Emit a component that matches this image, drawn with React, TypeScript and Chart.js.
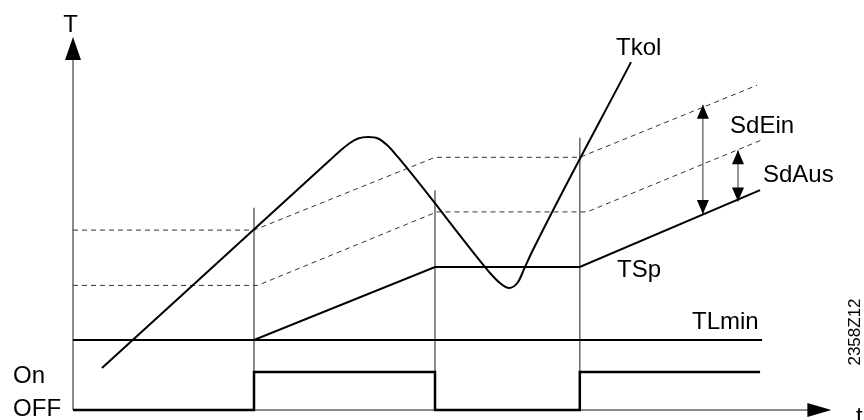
import { useEffect, useRef } from 'react';
import { Chart, registerables } from 'chart.js';

Chart.register(...registerables);

// ---- Data (time t, temperature T in diagram units) ----
const tkolTimes = [1.6, 14.2, 14.75, 15.3, 15.75, 16.3, 16.85, 17.35, 17.9, 22.76, 23.04, 23.59, 24.09, 24.59, 24.97, 25.41, 30.83];
const tkolValues = [6, 35.71, 37.0, 38.14, 38.79, 39.0, 38.79, 37.86, 36.29, 20.43, 19.57, 18.14, 17.43, 18.29, 20.43, 22.86, 49.7];

const tspTimes = [0, 10, 20, 28, 37.96];
const tspValues = [10, 10, 20.43, 20.43, 31.4];

const sdEinTimes = [0, 10, 20, 28, 37.8];
const sdEinValues = [25.7, 25.7, 36.1, 36.1, 46.4];

const sdAusTimes = [0, 10.2, 20.1, 28.4, 38.07];
const sdAusValues = [17.8, 17.8, 28.3, 28.3, 38.6];

const tlminTimes = [0, 38.07];
const tlminValues = [10, 10];

const switchTimes = [0, 10, 10, 20, 20, 28, 28, 37.96];
const switchValues = [0, 0, 5.43, 5.43, 0, 0, 5.43, 5.43];

const markerTimes = [10, 20, 28];
const markerTops = [28.9, 31.4, 38.9];

const axisTimeEnd = 41.9;
const axisTempEnd = 53.3;

const sdEinArrow = { t: 34.8, from: 28.0, to: 43.6 };
const sdAusArrow = { t: 36.74, from: 29.8, to: 37.1 };

const labelTexts = ['T', 'Tkol', 'SdEin', 'SdAus', 'TSp', 'TLmin', 'On', 'OFF', 't'];
const labelTimes = [-0.14, 30.0, 36.3, 38.12, 30.06, 34.2, -3.31, -3.31, 43.26];
const labelValues = [54, 50.7, 39.57, 32.57, 19, 11.57, 3.86, -0.86, -2.0];
const labelAligns = ['center', 'left', 'left', 'left', 'left', 'left', 'left', 'left', 'left'];

const codeText = '2358Z12';
const codePos = { t: 43.2, v: 11.14 };

const zip = (ts: number[], vs: number[]) => ts.map((t, i) => ({ x: t, y: vs[i] }));

const FONT = '"Liberation Sans", Arial, Helvetica, sans-serif';

const diagramPlugin = {
  id: 'diagramDecor',
  afterDatasetsDraw(chart: any) {
    const { ctx, scales } = chart;
    const px = (t: number) => scales.x.getPixelForValue(t);
    const py = (v: number) => scales.y.getPixelForValue(v);
    ctx.save();
    const head = (tx: number, ty: number, dx: number, dy: number, len: number, hw: number) => {
      const bx = tx - dx * len;
      const by = ty - dy * len;
      const nx = -dy;
      const ny = dx;
      ctx.beginPath();
      ctx.moveTo(tx, ty);
      ctx.lineTo(bx + nx * hw, by + ny * hw);
      ctx.lineTo(bx - nx * hw, by - ny * hw);
      ctx.closePath();
      ctx.fill();
    };
    ctx.fillStyle = '#000';
    // axis arrowheads
    head(px(0), py(axisTempEnd), 0, -1, 23, 8);
    head(px(axisTimeEnd), py(0), 1, 0, 24, 7);
    // dimension arrows
    [sdEinArrow, sdAusArrow].forEach((a) => {
      head(px(a.t), py(a.to), 0, -1, 14, 6);
      head(px(a.t), py(a.from), 0, 1, 14, 6);
    });
    // labels
    ctx.font = '24px ' + FONT;
    ctx.textBaseline = 'alphabetic';
    labelTexts.forEach((txt, i) => {
      ctx.textAlign = labelAligns[i];
      ctx.fillText(txt, px(labelTimes[i]), py(labelValues[i]));
    });
    // rotated code
    ctx.translate(px(codePos.t), py(codePos.v));
    ctx.rotate(-Math.PI / 2);
    ctx.font = '17px ' + FONT;
    ctx.textAlign = 'center';
    ctx.textBaseline = 'middle';
    ctx.fillText(codeText, 0, 0);
    ctx.restore();
  },
};

export default function App() {
  const ref = useRef<HTMLCanvasElement | null>(null);
  useEffect(() => {
    if (!ref.current) return;
    const line = (data: any[], color: string, width: number, extra: any = {}) => ({
      data,
      showLine: true,
      borderColor: color,
      backgroundColor: color,
      borderWidth: width,
      pointRadius: 0,
      fill: false,
      ...extra,
    });
    const datasets: any[] = [
      line(zip(tkolTimes, tkolValues), '#000', 2, { cubicInterpolationMode: 'monotone' }),
      line(zip(tspTimes, tspValues), '#000', 2),
      line(zip(switchTimes, switchValues), '#000', 2.5),
      line(zip(tlminTimes, tlminValues), '#000', 2),
      line(zip(sdEinTimes, sdEinValues), '#333', 1, { borderDash: [5, 4] }),
      line(zip(sdAusTimes, sdAusValues), '#333', 1, { borderDash: [5, 4] }),
      line([{ x: 0, y: 0 }, { x: 0, y: axisTempEnd - 2 }], '#666', 1.5),
      line([{ x: 0, y: 0 }, { x: axisTimeEnd - 1, y: 0 }], '#666', 1.5),
      ...markerTimes.map((t, i) => line([{ x: t, y: 0 }, { x: t, y: markerTops[i] }], '#666', 1.5)),
      line([{ x: sdEinArrow.t, y: sdEinArrow.from }, { x: sdEinArrow.t, y: sdEinArrow.to }], '#555', 1.2),
      line([{ x: sdAusArrow.t, y: sdAusArrow.from }, { x: sdAusArrow.t, y: sdAusArrow.to }], '#555', 1.2),
    ];
    const chart = new Chart(ref.current, {
      type: 'scatter',
      data: { datasets },
      options: {
        animation: false,
        responsive: false,
        maintainAspectRatio: false,
        layout: { padding: 0 },
        plugins: { legend: { display: false }, tooltip: { enabled: false } },
        scales: {
          x: { type: 'linear', min: -73 / 18.1, max: 791 / 18.1, display: false },
          y: { type: 'linear', min: -10 / 7, max: 410 / 7, display: false },
        },
        elements: { line: { tension: 0 } },
      },
      plugins: [diagramPlugin],
    } as any);
    return () => chart.destroy();
  }, []);
  return (
    <div style={{ position: 'absolute', left: 0, top: 0, width: 864, height: 420, background: '#fff' }}>
      <canvas ref={ref} width={864} height={420} style={{ width: 864, height: 420, display: 'block' }} />
    </div>
  );
}
